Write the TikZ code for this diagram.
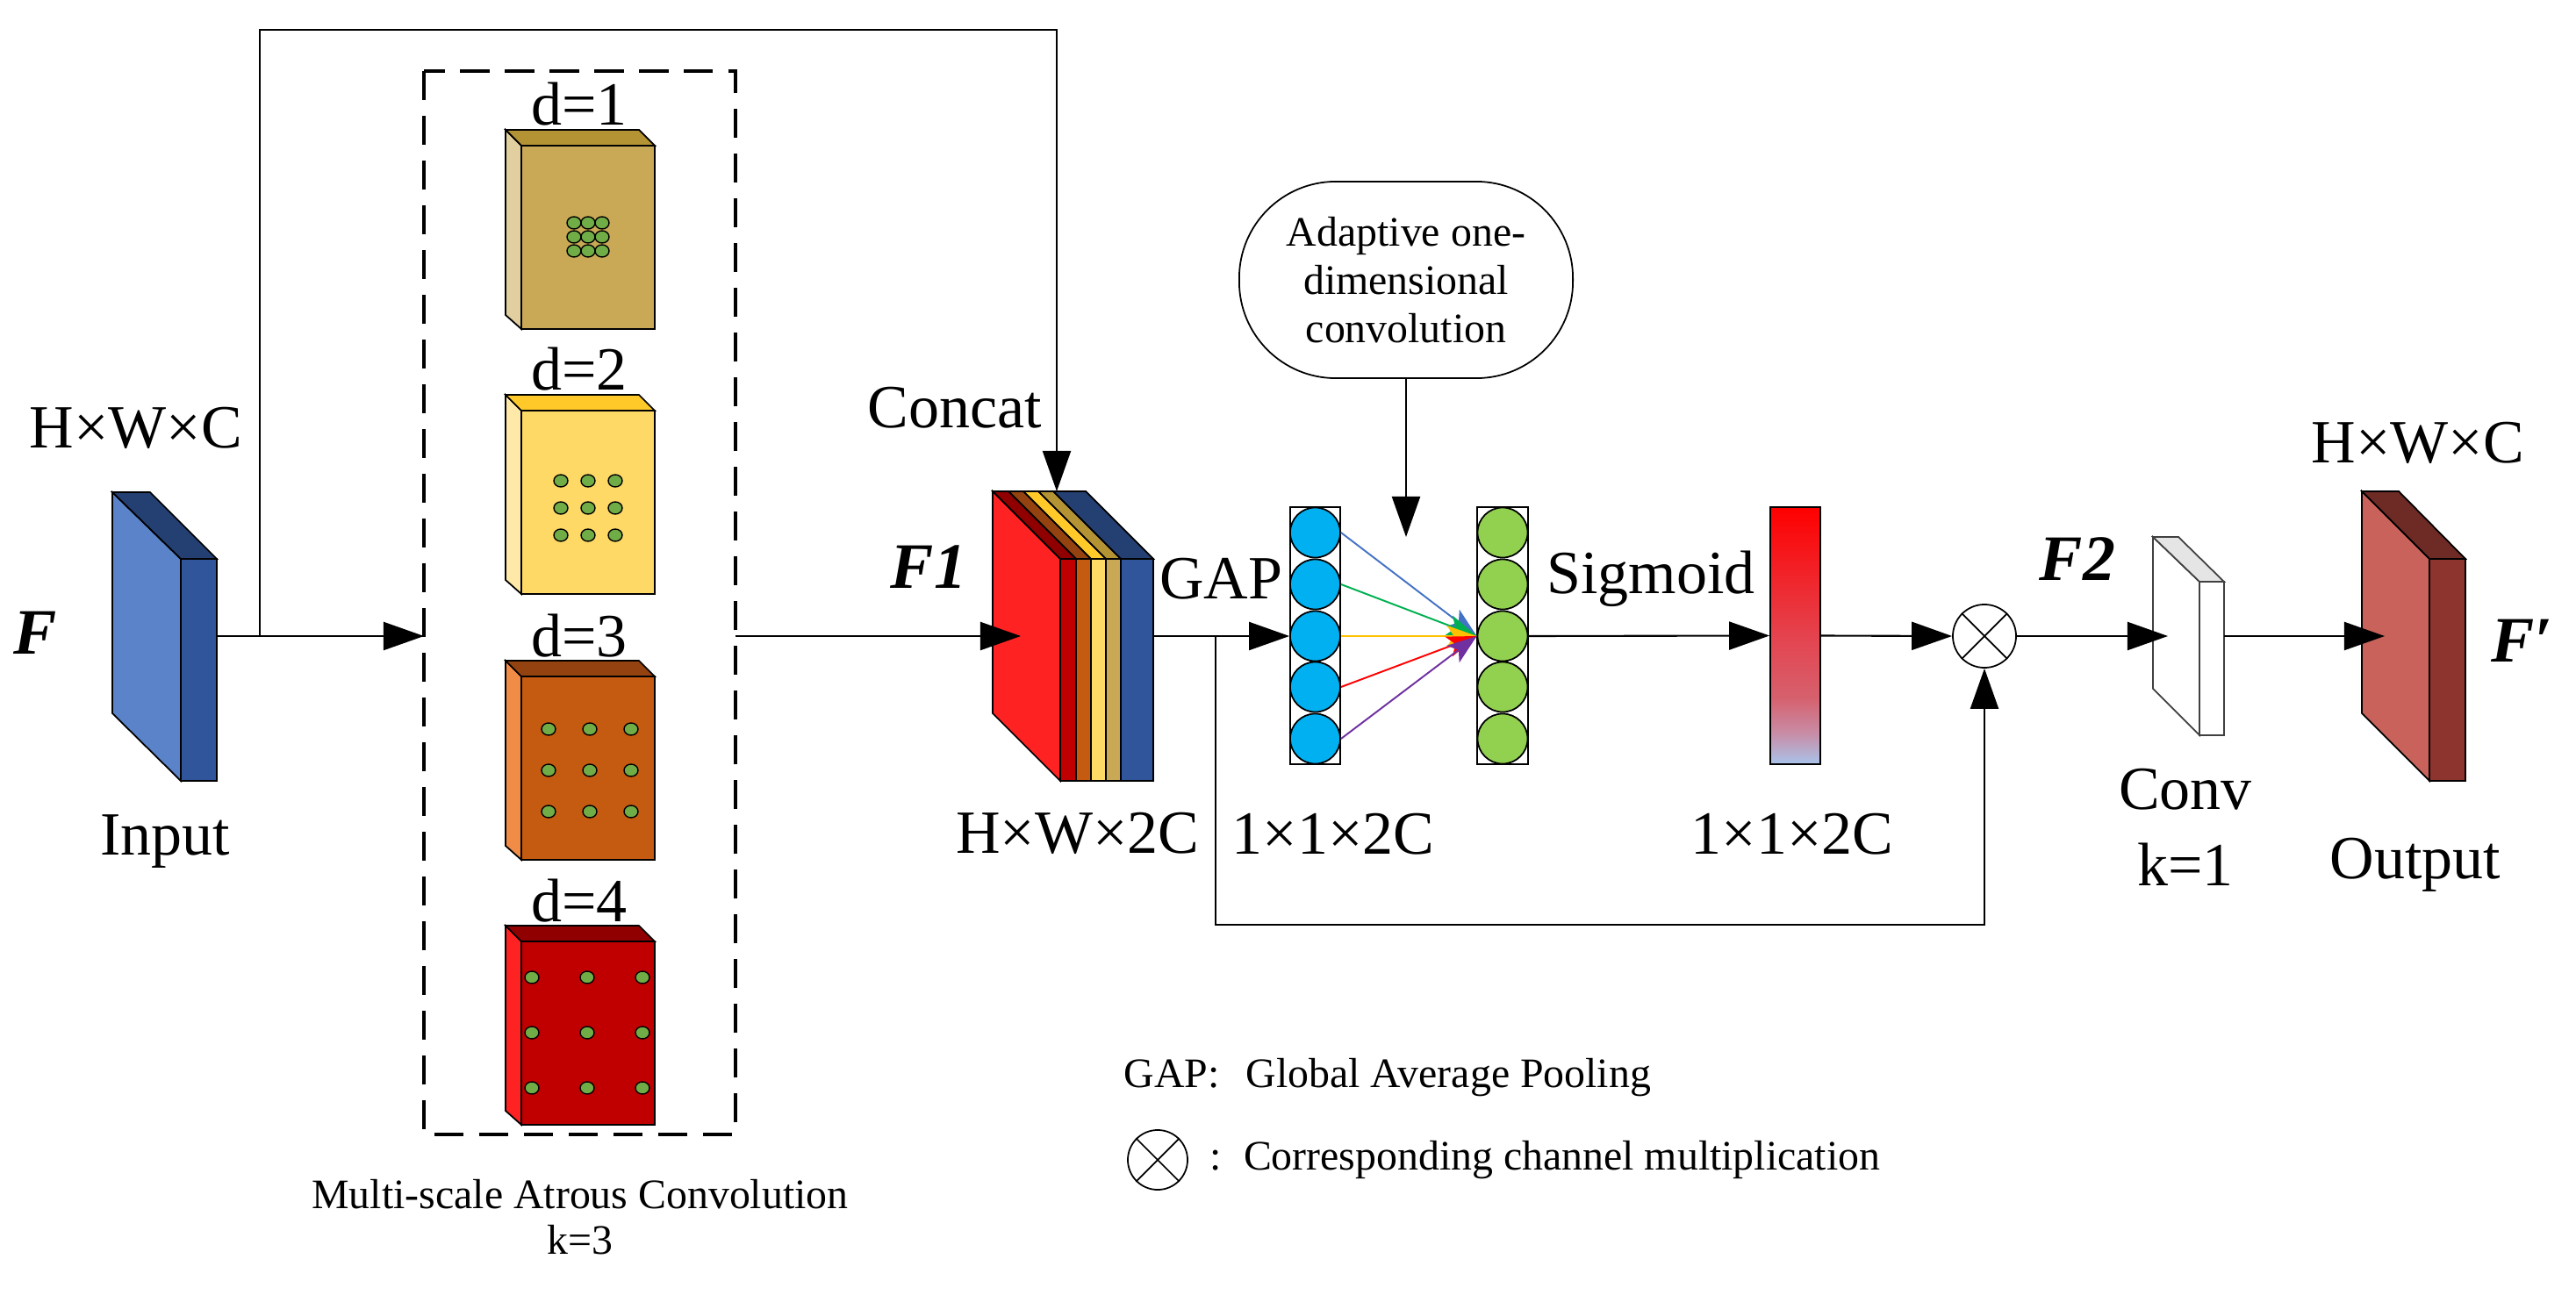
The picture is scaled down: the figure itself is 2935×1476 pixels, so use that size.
\documentclass[tikz,border=0pt]{standalone}
\usepackage{fontspec}
\setmainfont{Liberation Serif}
\usepackage{xcolor}
\usetikzlibrary{arrows.meta,calc}

\definecolor{inpfront}{HTML}{5B83C9}
\definecolor{inpside}{HTML}{30559A}
\definecolor{inptop}{HTML}{243F72}
\definecolor{tanfront}{HTML}{C9A956}
\definecolor{tanside}{HTML}{E2CFA0}
\definecolor{tantop}{HTML}{B49334}
\definecolor{yelfront}{HTML}{FFD966}
\definecolor{yelside}{HTML}{FFE9A8}
\definecolor{yeltop}{HTML}{FFC929}
\definecolor{orgfront}{HTML}{C55A11}
\definecolor{orgside}{HTML}{F08C46}
\definecolor{orgtop}{HTML}{934210}
\definecolor{redfront}{HTML}{C00000}
\definecolor{redside}{HTML}{FF2222}
\definecolor{redtop}{HTML}{900000}
\definecolor{dotgreen}{HTML}{70AD47}
\definecolor{gapblue}{HTML}{00B0F0}
\definecolor{convgreen}{HTML}{92D050}
\definecolor{outfront}{HTML}{C8625A}
\definecolor{outside}{HTML}{8E342F}
\definecolor{outtop}{HTML}{6E2A24}
\definecolor{convtop}{HTML}{E5E5E5}
\definecolor{barblue}{HTML}{A9C4EB}
\definecolor{barpink}{HTML}{C88DA6}
\definecolor{barrose}{HTML}{D6606D}
\definecolor{barmid}{HTML}{E4434E}
\definecolor{linkblue}{HTML}{4472C4}
\definecolor{linkgreen}{HTML}{00B050}
\definecolor{linkgold}{HTML}{FFC000}
\definecolor{linkred}{HTML}{FF0000}
\definecolor{linkpurple}{HTML}{7030A0}

\pgfdeclareverticalshading{sigbar}{100bp}{color(0bp)=(barblue); color(25bp)=(barblue);
  color(31bp)=(barpink); color(38bp)=(barrose); color(50bp)=(barmid);
  color(75bp)=(linkred); color(100bp)=(linkred)}

\begin{document}
\begin{tikzpicture}[x=0.01cm, y=-0.01cm,
  conn/.style={line width=0.6pt},
  bigtip/.style={-{Triangle[length=0.46cm, width=0.32cm]}},
  smalltip/.style={-{Stealth[length=0.34cm, width=0.24cm, inset=0.08cm]}},
  face/.style={draw=black, line width=0.5pt},
  lbl/.style={font=\fontsize{19.9}{24}\selectfont, inner sep=0pt},
  fbold/.style={font=\fontsize{21}{25}\selectfont\bfseries\itshape, inner sep=0pt},
  smalltxt/.style={font=\fontsize{13.6}{15.6}\selectfont, inner sep=0pt},
  atrousdot/.style={draw=black, line width=0.4pt, fill=dotgreen},
  chcell/.style={circle, draw=black, line width=0.5pt, minimum size=0.57cm, inner sep=0pt}]
  \useasboundingbox (0,0) rectangle (2935,1476);

  % input feature
  \filldraw[face, fill=inpfront] (128,561) -- (206,637) -- (206,890) -- (128,813) -- cycle;
  \filldraw[face, fill=inpside] (206,637) rectangle (247,890);
  \filldraw[face, fill=inptop] (128,561) -- (171,561) -- (247,637) -- (206,637) -- cycle;
  \coordinate (inp) at (247,725);
  \coordinate (split) at (296,725);
  \coordinate (topl) at (296,34);

  % multi-scale atrous convolution
  \draw[line width=1.1pt, dash pattern=on 9.5pt off 5pt] (483,81) rectangle (838,1293);
  \coordinate (mac-w) at (483,725);
  \coordinate (mac-e) at (838,725);
  \filldraw[face, fill=tanfront] (594,166) rectangle (746,375);
  \filldraw[face, fill=tanside] (576,148) -- (594,166) -- (594,375) -- (576,359) -- cycle;
  \filldraw[face, fill=tantop] (576,148) -- (728,148) -- (746,166) -- (594,166) -- cycle;
  \filldraw[face, fill=yelfront] (594,468) rectangle (746,677);
  \filldraw[face, fill=yelside] (576,450) -- (594,468) -- (594,677) -- (576,661) -- cycle;
  \filldraw[face, fill=yeltop] (576,450) -- (728,450) -- (746,468) -- (594,468) -- cycle;
  \filldraw[face, fill=orgfront] (594,771) rectangle (746,980);
  \filldraw[face, fill=orgside] (576,753) -- (594,771) -- (594,980) -- (576,964) -- cycle;
  \filldraw[face, fill=orgtop] (576,753) -- (728,753) -- (746,771) -- (594,771) -- cycle;
  \filldraw[face, fill=redfront] (594,1073) rectangle (746,1282);
  \filldraw[face, fill=redside] (576,1055) -- (594,1073) -- (594,1282) -- (576,1266) -- cycle;
  \filldraw[face, fill=redtop] (576,1055) -- (728,1055) -- (746,1073) -- (594,1073) -- cycle;
  \filldraw[atrousdot] (654,254) ellipse (8 and 7) (670,254) ellipse (8 and 7) (686,254) ellipse (8 and 7);
  \filldraw[atrousdot] (654,270) ellipse (8 and 7) (670,270) ellipse (8 and 7) (686,270) ellipse (8 and 7);
  \filldraw[atrousdot] (654,286) ellipse (8 and 7) (670,286) ellipse (8 and 7) (686,286) ellipse (8 and 7);
  \filldraw[atrousdot] (639,548) ellipse (8 and 7) (670,548) ellipse (8 and 7) (701,548) ellipse (8 and 7);
  \filldraw[atrousdot] (639,579) ellipse (8 and 7) (670,579) ellipse (8 and 7) (701,579) ellipse (8 and 7);
  \filldraw[atrousdot] (639,610) ellipse (8 and 7) (670,610) ellipse (8 and 7) (701,610) ellipse (8 and 7);
  \filldraw[atrousdot] (625,831) ellipse (8 and 7) (672,831) ellipse (8 and 7) (719,831) ellipse (8 and 7);
  \filldraw[atrousdot] (625,878) ellipse (8 and 7) (672,878) ellipse (8 and 7) (719,878) ellipse (8 and 7);
  \filldraw[atrousdot] (625,925) ellipse (8 and 7) (672,925) ellipse (8 and 7) (719,925) ellipse (8 and 7);
  \filldraw[atrousdot] (606,1114) ellipse (8 and 7) (669,1114) ellipse (8 and 7) (732,1114) ellipse (8 and 7);
  \filldraw[atrousdot] (606,1177) ellipse (8 and 7) (669,1177) ellipse (8 and 7) (732,1177) ellipse (8 and 7);
  \filldraw[atrousdot] (606,1240) ellipse (8 and 7) (669,1240) ellipse (8 and 7) (732,1240) ellipse (8 and 7);

  % concatenated feature F1
  \filldraw[face, fill=redside] (1131,560) -- (1208,637) -- (1208,890) -- (1131,813) -- cycle;
  \filldraw[face, fill=redfront] (1208,637) rectangle (1226,890);
  \filldraw[face, fill=orgfront] (1226,637) rectangle (1243,890);
  \filldraw[face, fill=yelfront] (1243,637) rectangle (1260,890);
  \filldraw[face, fill=tanfront] (1260,637) rectangle (1277,890);
  \filldraw[face, fill=inpside] (1277,637) rectangle (1314,890);
  \filldraw[face, fill=redtop] (1131,560) -- (1149,560) -- (1226,637) -- (1208,637) -- cycle;
  \filldraw[face, fill=orgtop] (1149,560) -- (1166,560) -- (1243,637) -- (1226,637) -- cycle;
  \filldraw[face, fill=yeltop] (1166,560) -- (1183,560) -- (1260,637) -- (1243,637) -- cycle;
  \filldraw[face, fill=tantop] (1183,560) -- (1200,560) -- (1277,637) -- (1260,637) -- cycle;
  \filldraw[face, fill=inptop] (1200,560) -- (1237,560) -- (1314,637) -- (1277,637) -- cycle;
  \coordinate (cat-n) at (1204,560);
  \coordinate (cat-w) at (1163,725);
  \coordinate (cat-e) at (1314,725);
  \coordinate (gaps) at (1385,725);
  \coordinate (lowl) at (1385,1054);

  % GAP vector and 1-D convolution
  \draw[line width=0.5pt] (1470,578) rectangle (1527,871);
  \node[chcell, fill=gapblue] (b1) at (1498.5,607) {};
  \node[chcell, fill=gapblue] (b2) at (1498.5,666) {};
  \node[chcell, fill=gapblue] (b3) at (1498.5,725) {};
  \node[chcell, fill=gapblue] (b4) at (1498.5,783) {};
  \node[chcell, fill=gapblue] (b5) at (1498.5,842) {};
  \draw[line width=0.5pt] (1683,578) rectangle (1741,871);
  \node[chcell, fill=convgreen] (g1) at (1712,607) {};
  \node[chcell, fill=convgreen] (g2) at (1712,666) {};
  \node[chcell, fill=convgreen] (g3) at (1712,725) {};
  \node[chcell, fill=convgreen] (g4) at (1712,783) {};
  \node[chcell, fill=convgreen] (g5) at (1712,842) {};
  \node[draw, line width=0.5pt, rounded corners=1.1cm, minimum width=3.8cm, minimum height=2.24cm,
    align=center, smalltxt] (adc) at (1602,319) {Adaptive one-\\dimensional\\convolution};
  \coordinate (adc-tip) at (1602,612);

  % attention weights and multiplication
  \node[draw, line width=0.5pt, shade, shading=sigbar, minimum width=0.57cm, minimum height=2.93cm,
    inner sep=0pt] (att) at (2045.5,724.5) {};
  \node[circle, draw, line width=0.5pt, minimum size=0.72cm, inner sep=0pt] (mul) at (2261,725) {};
  \draw[line width=0.5pt] (mul.north west) -- (mul.south east) (mul.north east) -- (mul.south west);

  % conv k=1
  \filldraw[draw=black!75, line width=0.5pt, fill=white] (2453,612) -- (2506,663) -- (2506,838) -- (2453,785) -- cycle;
  \filldraw[draw=black!75, line width=0.5pt, fill=white] (2506,663) rectangle (2534,838);
  \filldraw[draw=black!75, line width=0.5pt, fill=convtop] (2453,612) -- (2482,612) -- (2534,663) -- (2506,663) -- cycle;
  \coordinate (conv-w) at (2470,725);
  \coordinate (conv-e) at (2534,725);

  % output feature
  \filldraw[face, fill=outfront] (2691,560) -- (2768,637) -- (2768,890) -- (2691,813) -- cycle;
  \filldraw[face, fill=outside] (2768,637) rectangle (2809,890);
  \filldraw[face, fill=outtop] (2691,560) -- (2733,560) -- (2809,637) -- (2768,637) -- cycle;
  \coordinate (out-w) at (2717,725);

  % connectors
  \draw[conn, bigtip] (inp) -- (mac-w);
  \draw[conn, bigtip] (split) -- (topl) -| (cat-n);
  \draw[conn, bigtip] (mac-e) -- (cat-w);
  \draw[conn, bigtip] (cat-e) -- (b3.west);
  \draw[conn, bigtip] (gaps) -- (lowl) -| (mul.south);
  \draw[conn, bigtip] (adc.south) -- (adc-tip);
  \draw[line width=0.55pt, linkblue, smalltip] (b1.east) -- (g3.west);
  \draw[line width=0.55pt, linkgreen, smalltip] (b2.east) -- (g3.west);
  \draw[line width=0.55pt, linkgold, smalltip] (b3.east) -- (g3.west);
  \draw[line width=0.55pt, linkred, smalltip] (b4.east) -- (g3.west);
  \draw[line width=0.55pt, linkpurple, smalltip] (b5.east) -- (g3.west);
  \draw[conn, bigtip] (g3.east) -- (att.west);
  \draw[conn, bigtip] (att.east) -- (mul.west);
  \draw[conn, bigtip] (mul.east) -- (conv-w);
  \draw[conn, bigtip] (conv-e) -- (out-w);

  % labels
  \node[lbl] (dimin) at (155,488) {H×W×C};
  \node[fbold] (fin) at (40,721) {F};
  \node[lbl] (inptxt) at (188,959) {Input};
  \node[lbl, anchor=base] (d1) at (660,143) {d=1};
  \node[lbl, anchor=base] (d2) at (660,445) {d=2};
  \node[lbl, anchor=base] (d3) at (660,748) {d=3};
  \node[lbl, anchor=base] (d4) at (660,1050) {d=4};
  \node[smalltxt] (mactxt) at (661,1361) {Multi-scale Atrous Convolution};
  \node[smalltxt] (mack) at (661,1413) {k=3};
  \node[lbl] (cattxt) at (1088,465) {Concat};
  \node[fbold] (f1) at (1058,646) {F1};
  \node[lbl] (gaptxt) at (1391,660) {GAP};
  \node[lbl] (dimcat) at (1228,950) {H×W×2C};
  \node[lbl] (dimgap) at (1519,951) {1×1×2C};
  \node[lbl] (sigtxt) at (1881,660) {Sigmoid};
  \node[lbl] (dimatt) at (2042,951) {1×1×2C};
  \node[fbold] (f2) at (2367,637) {F2};
  \node[lbl] (convtxt) at (2490,900) {Conv};
  \node[lbl] (ktxt) at (2490,985) {k=1};
  \node[lbl] (dimout) at (2755,505) {H×W×C};
  \node[lbl] (outtxt) at (2752,986) {Output};
  \node[fbold] (fout) at (2873,730) {F′};

  % legend
  \node[smalltxt, anchor=west] (key1) at (1280,1228) {GAP:\hspace{0.3cm}Global Average Pooling};
  \node[circle, draw, line width=0.5pt, minimum size=0.68cm, inner sep=0pt] (mulkey) at (1319,1322) {};
  \draw[line width=0.5pt] (mulkey.north west) -- (mulkey.south east) (mulkey.north east) -- (mulkey.south west);
  \node[smalltxt, anchor=west] (key2) at (1378,1322) {:\hspace{0.25cm}Corresponding channel multiplication};
\end{tikzpicture}
\end{document}
